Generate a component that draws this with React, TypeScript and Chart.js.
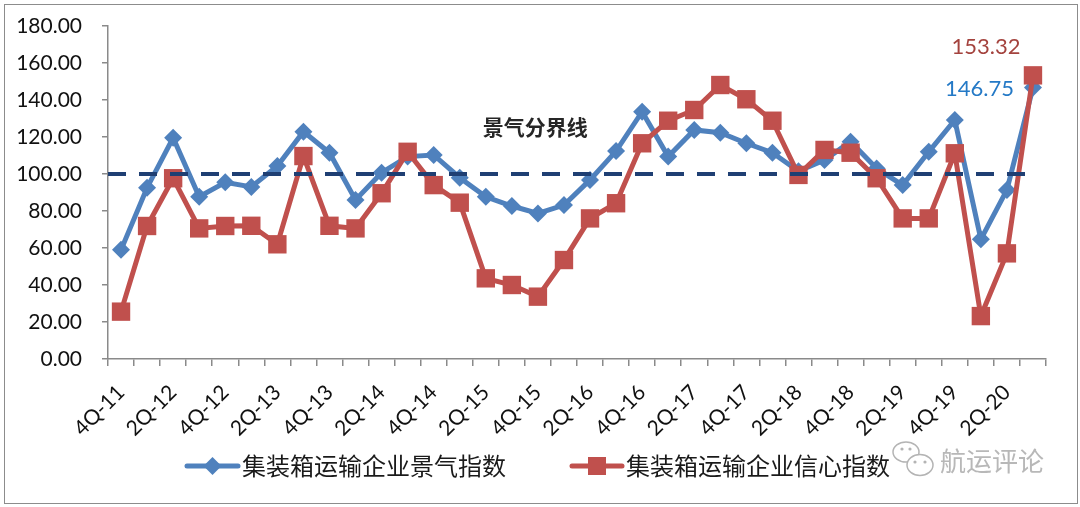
import React, { useEffect, useRef } from "react";
import { Chart, registerables } from "chart.js";

Chart.register(...registerables);

const categories = [
  "4Q-11", "1Q-12", "2Q-12", "3Q-12", "4Q-12", "1Q-13", "2Q-13", "3Q-13", "4Q-13",
  "1Q-14", "2Q-14", "3Q-14", "4Q-14", "1Q-15", "2Q-15", "3Q-15", "4Q-15",
  "1Q-16", "2Q-16", "3Q-16", "4Q-16", "1Q-17", "2Q-17", "3Q-17", "4Q-17",
  "1Q-18", "2Q-18", "3Q-18", "4Q-18", "1Q-19", "2Q-19", "3Q-19", "4Q-19",
  "1Q-20", "2Q-20", "3Q-20",
];

const prosperityIndex = [
  59.0, 92.6, 119.6, 87.7, 95.5, 93.0, 104.3, 122.9, 111.5,
  86.0, 100.7, 109.4, 110.3, 98.0, 87.7, 82.7, 78.7,
  83.2, 96.8, 112.4, 133.7, 109.4, 123.8, 122.3, 116.6,
  111.5, 101.5, 107.6, 117.5, 103.0, 94.0, 112.0, 129.2,
  64.7, 91.4, 146.75,
];

const confidenceIndex = [
  25.6, 71.9, 97.7, 70.6, 71.9, 72.0, 62.0, 109.7, 72.0,
  70.6, 89.6, 112.0, 94.0, 84.5, 43.6, 40.0, 33.7,
  53.5, 76.0, 84.2, 116.6, 128.8, 134.6, 148.1, 140.4,
  128.8, 99.5, 113.0, 111.5, 97.7, 76.0, 76.0, 111.2,
  23.2, 57.1, 153.32,
];

const seriesNames = ["集装箱运输企业景气指数", "集装箱运输企业信心指数"];
const yMin = 0;
const yMax = 180;
const yStep = 20;
const thresholdValue = 100;
const thresholdLabel = "景气分界线";
const watermarkText = "航运评论";

const BLUE = "#4F81BD";
const RED = "#C0504D";

function drawLegendItem(ctx: CanvasRenderingContext2D, x0: number, x1: number, y: number, color: string, shape: string, text: string, tx: number) {
  ctx.save();
  ctx.strokeStyle = color;
  ctx.fillStyle = color;
  ctx.lineWidth = 5;
  ctx.lineCap = "round";
  ctx.beginPath();
  ctx.moveTo(x0, y);
  ctx.lineTo(x1, y);
  ctx.stroke();
  const cx = (x0 + x1) / 2;
  ctx.beginPath();
  if (shape === "diamond") {
    const r = 9;
    ctx.moveTo(cx, y - r);
    ctx.lineTo(cx + r, y);
    ctx.lineTo(cx, y + r);
    ctx.lineTo(cx - r, y);
    ctx.closePath();
  } else {
    const s = 9;
    ctx.rect(cx - s, y - s, 2 * s, 2 * s);
  }
  ctx.fill();
  ctx.fillStyle = "#1a1a1a";
  ctx.font = '24px "Noto Sans CJK SC"';
  ctx.textAlign = "left";
  ctx.textBaseline = "middle";
  ctx.fillText(text, tx, y);
  ctx.restore();
}

const overlayPlugin = {
  id: "overlay",
  afterDatasetsDraw(chart: any) {
    const { ctx, chartArea, scales } = chart;
    const xs = scales.x;
    const ys = scales.y;
    ctx.save();
    // threshold dashed line
    const yy = ys.getPixelForValue(thresholdValue);
    ctx.strokeStyle = "#1F3F73";
    ctx.lineWidth = 4;
    ctx.setLineDash([18, 13]);
    ctx.beginPath();
    ctx.moveTo(chartArea.left, yy);
    ctx.lineTo(xs.getPixelForValue(categories.length - 1.25), yy);
    ctx.stroke();
    ctx.setLineDash([]);

    // threshold label
    ctx.fillStyle = "#262626";
    ctx.font = 'bold 21px "Noto Sans CJK SC"';
    ctx.textAlign = "center";
    ctx.textBaseline = "middle";
    ctx.fillText(thresholdLabel, xs.getPixelForValue(15.9), ys.getPixelForValue(125.5));

    // last value labels
    const last = categories.length - 1;
    const pB = chart.getDatasetMeta(0).data[last];
    const pR = chart.getDatasetMeta(1).data[last];
    ctx.font = '22px "Lato"';
    ctx.fillStyle = "#2479C6";
    ctx.textAlign = "right";
    ctx.fillText(prosperityIndex[last].toFixed(2), pB.x - 19, pB.y + 1);
    ctx.fillStyle = "#A4433E";
    ctx.textAlign = "center";
    ctx.fillText(confidenceIndex[last].toFixed(2), pR.x - 47, pR.y - 28);
    ctx.restore();
  },
  afterDraw(chart: any) {
    const ctx: CanvasRenderingContext2D = chart.ctx;
    drawLegendItem(ctx, 187, 238, 466, BLUE, "diamond", seriesNames[0], 242);
    drawLegendItem(ctx, 572, 622, 466, RED, "square", seriesNames[1], 626);

    // watermark
    ctx.save();
    ctx.strokeStyle = "#b4b4b4";
    ctx.fillStyle = "#b4b4b4";
    ctx.lineWidth = 1.5;
    ctx.beginPath();
    ctx.ellipse(906, 452, 13, 10, 0, 0, Math.PI * 2);
    ctx.stroke();
    ctx.fillStyle = "#ffffff";
    ctx.beginPath();
    ctx.ellipse(920, 465, 13, 10.5, 0, 0, Math.PI * 2);
    ctx.fill();
    ctx.stroke();
    ctx.fillStyle = "#b4b4b4";
    [[902, 449], [910, 449], [915, 462], [925, 462]].forEach(([dx, dy]) => {
      ctx.beginPath();
      ctx.arc(dx, dy, 1.6, 0, Math.PI * 2);
      ctx.fill();
    });
    ctx.fillStyle = "#b8b8b8";
    ctx.font = '26px "Noto Sans CJK SC"';
    ctx.textAlign = "left";
    ctx.textBaseline = "middle";
    ctx.fillText(watermarkText, 940, 461);
    ctx.restore();
  },
};

export default function App() {
  const canvasRef = useRef<HTMLCanvasElement | null>(null);

  useEffect(() => {
    if (!canvasRef.current) return;
    const chart = new Chart(canvasRef.current, {
      type: "line",
      data: {
        labels: categories,
        datasets: [
          {
            label: seriesNames[0],
            data: prosperityIndex,
            borderColor: BLUE,
            backgroundColor: BLUE,
            borderWidth: 5,
            pointStyle: "rectRot",
            pointRadius: 9,
            pointHoverRadius: 9,
            pointBorderWidth: 0,
            tension: 0,
            order: 2,
          },
          {
            label: seriesNames[1],
            data: confidenceIndex,
            borderColor: RED,
            backgroundColor: RED,
            borderWidth: 5,
            pointStyle: "rect",
            pointRadius: 13,
            pointHoverRadius: 13,
            pointBorderWidth: 0,
            tension: 0,
            order: 1,
          },
        ],
      },
      options: {
        animation: false,
        responsive: true,
        maintainAspectRatio: false,
        events: [],
        layout: { padding: { left: 0, right: 34, top: 26, bottom: 68 } },
        plugins: {
          legend: { display: false },
          tooltip: { enabled: false },
        },
        scales: {
          x: {
            type: "category",
            offset: true,
            grid: {
              offset: true,
              drawOnChartArea: false,
              drawTicks: true,
              tickLength: 7,
              color: "#8a8a8a",
              lineWidth: 1.5,
            },
            border: { color: "#8a8a8a", width: 1.5 },
            ticks: {
              autoSkip: false,
              minRotation: 45,
              maxRotation: 45,
              padding: 14,
              color: "#111",
              font: { family: "Lato", size: 21 },
              callback: (_v: any, i: number) => (i % 2 === 0 ? categories[i] : ""),
            },
            afterFit: (s: any) => {
              s.height = 80;
            },
          },
          y: {
            min: yMin,
            max: yMax,
            grid: {
              drawOnChartArea: false,
              drawTicks: true,
              tickLength: 6,
              color: "#8a8a8a",
              lineWidth: 1.5,
            },
            border: { color: "#8a8a8a", width: 1.5 },
            ticks: {
              stepSize: yStep,
              padding: 20,
              color: "#111",
              font: { family: "Lato", size: 21 },
              callback: (v: any) => Number(v).toFixed(2),
            },
            afterFit: (s: any) => {
              s.width = 108;
              s.paddingTop = 0;
              s.paddingBottom = 0;
            },
          },
        },
      },
      plugins: [overlayPlugin],
    });
    return () => chart.destroy();
  }, []);

  return (
    <div style={{ position: "fixed", left: 0, top: 0, width: 1080, height: 507, background: "#fff" }}>
      <div
        style={{
          position: "absolute",
          left: 4,
          top: 4,
          width: 1074,
          height: 500,
          border: "1.5px solid #8c8c8c",
          boxSizing: "border-box",
        }}
      />
      <canvas ref={canvasRef} style={{ position: "absolute", left: 0, top: 0 }} width={1080} height={507} />
    </div>
  );
}
